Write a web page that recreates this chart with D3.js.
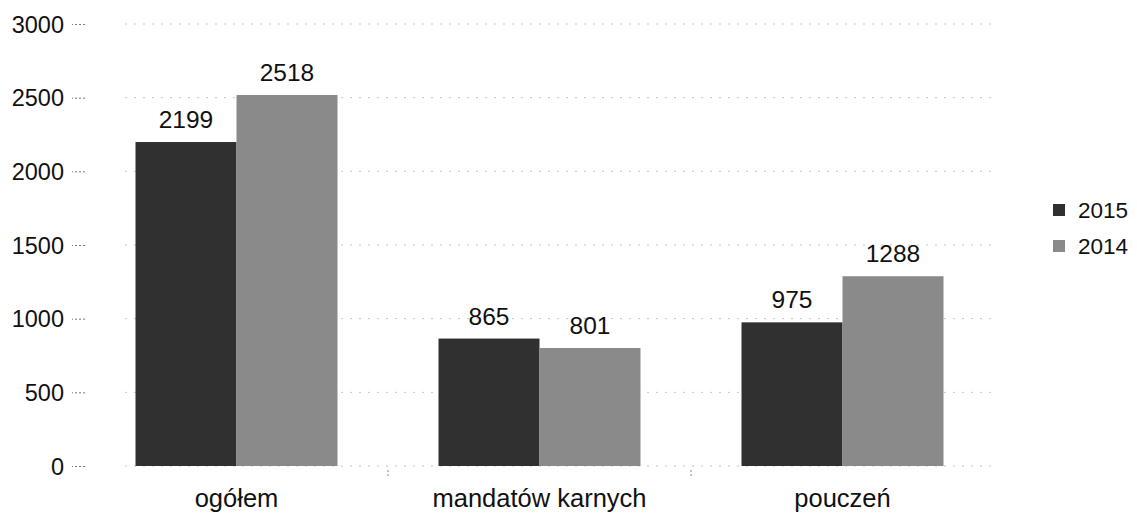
<!DOCTYPE html>
<html><head><meta charset="utf-8">
<script src="https://cdn.jsdelivr.net/npm/d3@7"></script>
<style>body{margin:0;background:#fff}svg{display:block}text{font-family:"Liberation Sans",Arial,sans-serif;fill:#111}</style>
</head><body><svg id="c" width="1137" height="515"></svg>
<script>
const categories = ["ogółem", "mandatów karnych", "pouczeń"];
const seriesNames = ["2015", "2014"];
const values2015 = [2199, 865, 975];
const values2014 = [2518, 801, 1288];
const yTicks = [0, 500, 1000, 1500, 2000, 2500, 3000];
const colors = ["#303030", "#8a8a8a"];

const svg = d3.select("#c");
const mLeft = 85, mRight = 994, mTop = 24, mBottom = 466;
const x = d3.scaleBand().domain(categories).range([mLeft, mRight]).paddingInner(1/3).paddingOuter(1/6);
const xs = d3.scaleBand().domain(seriesNames).range([0, x.bandwidth()]);
const y = d3.scaleLinear().domain([0, 3000]).range([mBottom, mTop]);

// gridlines
svg.append("g").selectAll("line").data(yTicks).join("line")
  .attr("x1", mLeft + 40).attr("x2", mRight).attr("y1", d => y(d)).attr("y2", d => y(d))
  .attr("stroke", "#c4c4c4").attr("stroke-width", 1).attr("stroke-dasharray", "2,7");

// y axis
const ya = svg.append("g").attr("transform", `translate(${mLeft},0)`)
  .call(d3.axisLeft(y).tickValues(yTicks).tickSize(13).tickPadding(8).tickFormat(d3.format("d")));
ya.select(".domain").remove();
ya.selectAll(".tick line").attr("stroke", "#777").attr("stroke-dasharray", "2,2");
ya.selectAll(".tick text").style("font-size", "23.5px").attr("fill", "#111").attr("dy", "0.35em");

// category separators
svg.append("g").selectAll("line").data(categories.slice(1)).join("line")
  .attr("x1", d => x(d) - x.step() * x.paddingInner() / 2).attr("x2", d => x(d) - x.step() * x.paddingInner() / 2)
  .attr("y1", mBottom + 4).attr("y2", mBottom + 12).attr("stroke", "#888").attr("stroke-dasharray", "2,2");

const data = categories.map((c, i) => ({c, vals: [values2015[i], values2014[i]]}));
const g = svg.append("g").selectAll("g").data(data).join("g").attr("transform", d => `translate(${x(d.c)},0)`);
g.selectAll("rect").data(d => d.vals.map((v, j) => ({v, s: seriesNames[j], j}))).join("rect")
  .attr("x", d => xs(d.s)).attr("width", xs.bandwidth())
  .attr("y", d => y(d.v)).attr("height", d => y(0) - y(d.v)).attr("fill", d => colors[d.j]);
g.selectAll("text.v").data(d => d.vals.map((v, j) => ({v, s: seriesNames[j], j}))).join("text")
  .attr("class", "v").attr("x", d => xs(d.s) + xs.bandwidth() / 2).attr("y", d => y(d.v) - 14)
  .attr("text-anchor", "middle").style("font-size", "24.5px").text(d => d.v);

// x labels
svg.append("g").selectAll("text").data(categories).join("text")
  .attr("x", d => x(d) + x.bandwidth() / 2).attr("y", 507).attr("text-anchor", "middle")
  .style("font-size", "25.5px").text(d => d);

// legend
const lg = svg.append("g").selectAll("g").data(seriesNames).join("g")
  .attr("transform", (d, i) => `translate(1053,${204 + i * 36})`);
lg.append("rect").attr("width", 12).attr("height", 12).attr("fill", (d, i) => colors[i]);
lg.append("text").attr("x", 25).attr("y", 6).attr("dy", "0.35em").style("font-size", "22.5px").text(d => d);
</script></body></html>
